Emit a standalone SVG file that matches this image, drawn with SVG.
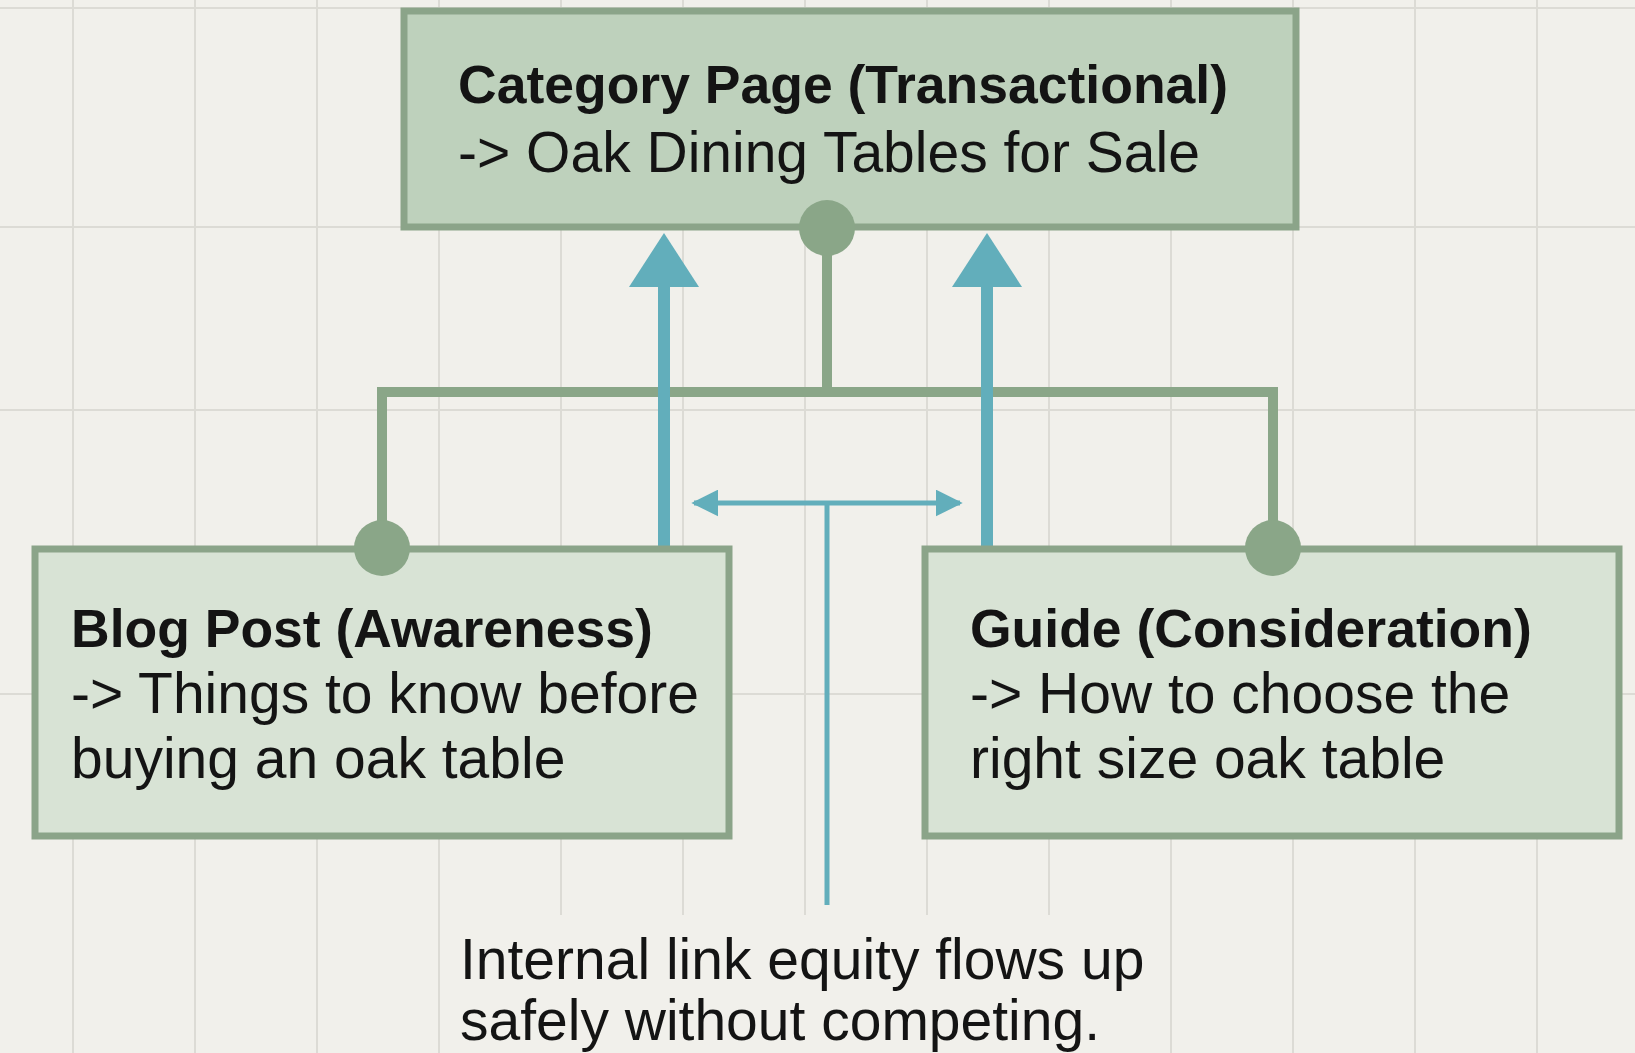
<svg xmlns="http://www.w3.org/2000/svg" width="1635" height="1053" viewBox="0 0 1635 1053">
<defs>
<style>
.grid{stroke:#dcdbd5;stroke-width:2;fill:none}
.box{stroke:#8ba489;stroke-width:7}
.top{fill:#bed1bc}
.low{fill:#d8e3d5}
.t{font-family:"Liberation Sans",Arial,sans-serif;fill:#141414}
.b{font-weight:bold;font-size:53.5px}
.r{font-size:57px}
.g{stroke:#8aa688;stroke-width:10;fill:none}
.dot{fill:#8aa688}
.bl{stroke:#62aebb;fill:none}
.bh{fill:#62aebb}
</style>
<marker id="ah" viewBox="0 0 10 10" refX="9" refY="5" markerWidth="5.4" markerHeight="5.4" markerUnits="strokeWidth" orient="auto-start-reverse">
<path d="M0,0 L10,5 L0,10 z" fill="#62aebb"/>
</marker>
</defs>
<rect width="1635" height="1053" fill="#f1f0eb"/>
<g id="grid" class="grid">
<path d="M73 0V1053M195 0V1053M317 0V1053M439 0V1053M561 0V1053M683 0V1053M805 0V1053M927 0V1053M1049 0V1053M1171 0V1053M1293 0V1053M1415 0V1053M1537 0V1053"/>
<path d="M0 8H1635M0 227H1635M0 410H1635M0 694H1635"/>
</g>
<rect x="452" y="915" width="712" height="138" fill="#f1f0eb"/>
<g id="connectors">
<path class="g" d="M827 228V392M382 548V392H1273V548"/>
<path class="bl" stroke-width="12" d="M664 548V280M987 548V280"/>
<polygon class="bh" points="664,233 699,287 629,287"/>
<polygon class="bh" points="987,233 1022,287 952,287"/>
<path class="bl" stroke-width="5" d="M694 503H960" marker-start="url(#ah)" marker-end="url(#ah)"/>
<path class="bl" stroke-width="5" d="M827 503V905"/>
</g>
<g id="category">
<rect class="box top" x="404" y="11" width="892" height="216"/>
<text class="t b" x="458" y="103" font-size="54.5">Category Page (Transactional)</text>
<text class="t r" x="458" y="172" font-size="56">-&gt; Oak Dining Tables for Sale</text>
<circle class="dot" cx="827" cy="228" r="28"/>
</g>
<g id="blog">
<rect class="box low" x="35" y="549" width="694" height="287"/>
<text class="t b" x="71" y="647">Blog Post (Awareness)</text>
<text class="t r" x="71" y="713" font-size="57.5">-&gt; Things to know before</text>
<text class="t r" x="71" y="778">buying an oak table</text>
<circle class="dot" cx="382" cy="548" r="28"/>
</g>
<g id="guide">
<rect class="box low" x="925" y="549" width="694" height="287"/>
<text class="t b" x="970" y="647">Guide (Consideration)</text>
<text class="t r" x="970" y="713">-&gt; How to choose the</text>
<text class="t r" x="970" y="778">right size oak table</text>
<circle class="dot" cx="1273" cy="548" r="28"/>
</g>
<g id="note">
<text class="t r" x="460" y="979" font-size="58">Internal link equity flows up</text>
<text class="t r" x="460" y="1040" font-size="58">safely without competing.</text>
</g>
</svg>
